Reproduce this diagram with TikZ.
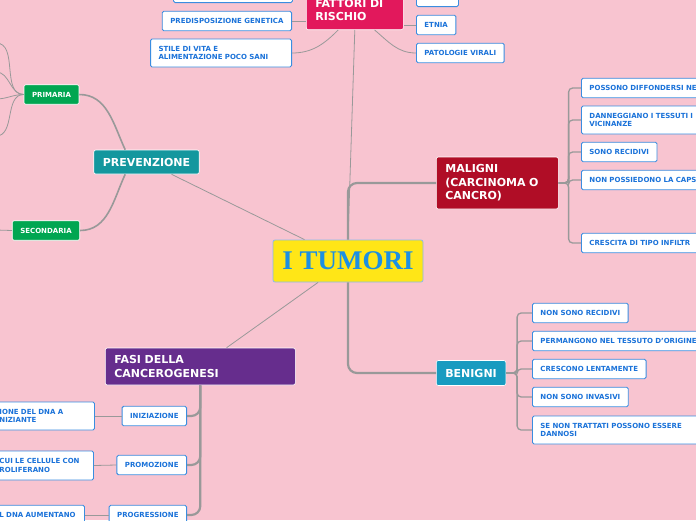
\documentclass[tikz,border=0pt]{standalone}
\usepackage{fontspec}
\setmainfont{DejaVu Sans}
\newfontfamily\serifbold{Liberation Serif}
\definecolor{fundo}{HTML}{F8C4D0}
\definecolor{amarelo}{HTML}{FFE617}
\definecolor{azultitulo}{HTML}{1C8FE3}
\definecolor{azulborda}{HTML}{3A8DE0}
\definecolor{azultexto}{HTML}{1A72D9}
\definecolor{fucsia}{HTML}{E2185C}
\definecolor{bordo}{HTML}{B00D26}
\definecolor{turquesa}{HTML}{189BC0}
\definecolor{petroleo}{HTML}{14979E}
\definecolor{verde}{HTML}{00A651}
\definecolor{roxo}{HTML}{662D8D}
\definecolor{cinzalinha}{HTML}{999999}

\begin{document}
\begin{tikzpicture}[x=1pt, y=-1pt,
  folha/.style={draw=azulborda, fill=white, line width=0.9pt, rounded corners=1.5pt,
                minimum height=19.5pt, inner xsep=8pt, inner ysep=2pt, align=left,
                font=\fontsize{7}{8.6}\selectfont\bfseries, text=azultexto},
  ramo/.style={draw=white!70, line width=0.6pt, rounded corners=2pt, inner xsep=9pt,
               align=left, text=white, font=\fontsize{11}{13.5}\selectfont\bfseries},
  grau/.style={draw=white!80, line width=0.6pt, fill=verde, rounded corners=1.5pt,
               minimum height=19.5pt, inner xsep=8pt, text=white,
               font=\fontsize{7}{8.6}\selectfont\bfseries},
  linha/.style={draw=cinzalinha, line width=0.8pt},
  galho/.style={draw=cinzalinha, line width=1.6pt},
  chave/.style={draw=cinzalinha, line width=1.3pt, rounded corners=4pt},
  tronco/.style={draw=cinzalinha, line width=2.2pt, rounded corners=9pt}
]
\useasboundingbox (0,0) rectangle (696,520);
\clip (0,0) rectangle (696,520);
\fill[fundo] (0,0) rectangle (696,520);

\node[draw=azulborda!60, line width=0.8pt, fill=amarelo, rounded corners=2pt,
      minimum width=150pt, minimum height=42pt, text=azultitulo,
      font=\fontsize{27}{30}\serifbold\bfseries] (tumori) at (348,261) {I TUMORI};

\node[ramo, fill=fucsia, anchor=south west, text width=79pt, minimum height=39pt]
  (fattori) at (306,30) {FATTORI DI\\RISCHIO};
\node[folha, anchor=south west, minimum width=119pt] (fattoriA) at (173,3) {};
\node[folha, anchor=south west, minimum width=42pt] (fattoriB) at (416,7) {};
\node[folha, anchor=east] (genetica) at (292,21) {PREDISPOSIZIONE GENETICA};
\node[folha, anchor=east, text width=125pt, minimum height=28pt]
  (stile) at (292,53) {STILE DI VITA E\\ALIMENTAZIONE POCO SANI};
\node[folha, anchor=west] (etnia) at (416,25) {ETNIA};
\node[folha, anchor=west] (virali) at (416,53) {PATOLOGIE VIRALI};

\node[ramo, fill=bordo, anchor=west, text width=104pt, minimum height=52pt]
  (maligni) at (436,183) {MALIGNI\\(CARCINOMA O\\CANCRO)};
\node[folha, anchor=west, text width=140pt] (mal1) at (581,88) {POSSONO DIFFONDERSI NE};
\node[folha, anchor=west, text width=140pt, minimum height=28pt]
  (mal2) at (581,120) {DANNEGGIANO I TESSUTI I\\VICINANZE};
\node[folha, anchor=west] (mal3) at (581,152) {SONO RECIDIVI};
\node[folha, anchor=west, text width=140pt] (mal4) at (581,180) {NON POSSIEDONO LA CAPS};
\node[folha, anchor=west, text width=140pt] (mal5) at (581,243) {CRESCITA DI TIPO INFILTR};

\node[ramo, fill=turquesa, anchor=west, minimum height=25pt] (benigni) at (436,373) {BENIGNI};
\node[folha, anchor=west] (ben1) at (532,313) {NON SONO RECIDIVI};
\node[folha, anchor=west, text width=165pt] (ben2) at (532,341) {PERMANGONO NEL TESSUTO D'ORIGINE};
\node[folha, anchor=west] (ben3) at (532,369) {CRESCONO LENTAMENTE};
\node[folha, anchor=west] (ben4) at (532,397) {NON SONO INVASIVI};
\node[folha, anchor=west, text width=165pt, minimum height=28pt]
  (ben5) at (532,430) {SE NON TRATTATI POSSONO ESSERE\\DANNOSI};

\node[ramo, fill=petroleo, minimum height=24pt] (prevenzione) at (146.5,162) {PREVENZIONE};
\node[grau] (primaria) at (51.5,94.5) {PRIMARIA};
\node[grau] (secondaria) at (46,230.5) {SECONDARIA};
\coordinate (prim1) at (-4,43);
\coordinate (prim2) at (-4,72);
\coordinate (prim3) at (-4,99);
\coordinate (prim4) at (-4,136);
\coordinate (sec1) at (-4,230);

\node[ramo, fill=roxo, anchor=west, text width=172pt, minimum height=37pt]
  (fasi) at (105,366.5) {FASI DELLA\\CANCEROGENESI};
\node[folha, anchor=east] (iniziazione) at (187,416) {INIZIAZIONE};
\node[folha, anchor=east] (promozione) at (187,465) {PROMOZIONE};
\node[folha, anchor=east] (progressione) at (187,515) {PROGRESSIONE};
\node[folha, anchor=west, text width=87pt, minimum height=28pt]
  (dna1) at (-9,416) {IONE DEL DNA A\\NIZIANTE};
\node[folha, anchor=west, text width=86pt, minimum height=29pt]
  (dna2) at (-9,465.5) {CUI LE CELLULE CON\\ROLIFERANO};
\node[folha, anchor=west, text width=77pt] (dna3) at (-9,515) {L DNA AUMENTANO};

\draw[linha] (fattori.south) -- (tumori.north);
\draw[linha] (genetica.east) -- (genetica.east -| fattori.west);
\draw[linha] (fattori.230) to[out=225,in=0] (stile.east);
\draw[linha] (etnia.west) -- (etnia.west -| fattori.east);
\draw[linha] (fattori.315) to[out=-40,in=180] (virali.west);

\draw[tronco] (maligni.west) -| (tumori.north);
\draw[tronco] (benigni.west) -| (tumori.south);
\foreach \i in {1,...,5}
  \draw[chave] (maligni.east) -- ++(10,0) |- (mal\i.west);
\foreach \i in {1,...,5}
  \draw[chave] (benigni.east) -- ++(11,0) |- (ben\i.west);

\draw[linha] (prevenzione) -- (tumori);
\draw[galho] (primaria.east) to[out=0,in=115] (prevenzione.150);
\draw[galho] (secondaria.east) to[out=0,in=245] (prevenzione.210);
\foreach \c in {prim1,prim2,prim3,prim4}
  \draw[linha] (primaria.west) to[out=180,in=0] (\c);
\draw[linha] (secondaria.west) -- (sec1);

\draw[linha] (fasi) -- (tumori);
\foreach \f in {iniziazione,promozione,progressione}
  \draw[tronco] (fasi.south) |- (\f.east);
\draw[linha] (iniziazione.west) -- (dna1.east);
\draw[linha] (promozione.west) -- (dna2.east);
\draw[linha] (progressione.west) -- (dna3.east);
\end{tikzpicture}
\end{document}
